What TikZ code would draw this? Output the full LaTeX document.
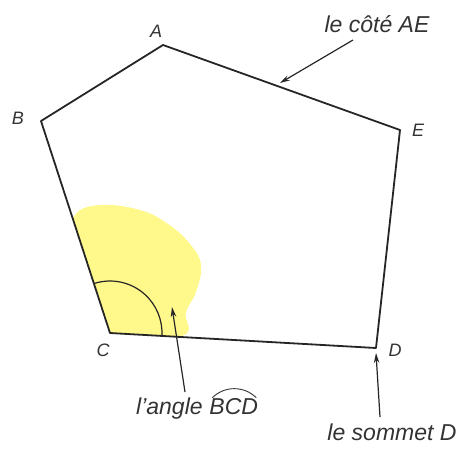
\documentclass[tikz,border=0pt]{standalone}
\usepackage{fontspec}
\setmainfont{Liberation Sans}
\usetikzlibrary{arrows.meta}
\begin{document}
\begin{tikzpicture}[x=1pt,y=-1pt,
  edge/.style={line width=1.8pt, draw=black!85, line join=round},
  pointer/.style={line width=1.2pt, draw=black!85, -{Stealth[length=10pt,width=5.5pt]}},
  vlab/.style={font=\fontsize{18}{20}\selectfont\itshape, inner sep=0pt, text=black!80},
  tlab/.style={font=\fontsize{23}{25}\selectfont\itshape, inner sep=0pt, text=black!80}]
\useasboundingbox (0,0) rectangle (465,448);
\coordinate (A) at (163,45);
\coordinate (B) at (41,121);
\coordinate (C) at (110,333);
\coordinate (D) at (376,348);
\coordinate (E) at (400,130);
% yellow shading
\begin{scope}
\clip (A)--(B)--(C)--(D)--(E)--cycle;
\fill[yellow!50, opacity=0.9] plot[smooth cycle, tension=0.7] coordinates {(75,215) (100,205) (140,210) (168,224) (190,244) (201,265) (196,292) (186,312) (182,336) (112,336) (92,285) (74,240)};
\end{scope}
\draw[edge] (A)--(B)--(C)--(D)--(E)--cycle;
\draw[line width=1.2pt, black!85] (C) ++(-108:52) arc[start angle=-108, end angle=3.2, radius=52];
% labels
\node[vlab] (lA) at (156,31) {A};
\node[vlab] (lB) at (18,118) {B};
\node[vlab] (lE) at (418,130) {E};
\node[vlab] (lC) at (103,350) {C};
\node[vlab] (lD) at (395,350) {D};
\node[tlab] (tAE) at (377,24) {le côté AE};
\node[tlab, anchor=base west] (tAng) at (136,414) {l'angle};
\node[tlab, anchor=base west] (tBCD) at ([xshift=6.4pt]tAng.base east) {BCD};
\draw[line width=0.9pt, black!80] ([shift={(3,0)}]tBCD.north west) to[bend left=45] ([shift={(-2,0)}]tBCD.north east);
\node[tlab] (tSom) at (392,432) {le sommet D};
\coordinate (aeT) at (353,40);
\coordinate (aeH) at (280,83);
\coordinate (angT) at (185,392);
\coordinate (angH) at (172,307);
\coordinate (somT) at (380,417);
\coordinate (somH) at (376,353);
\draw[pointer] (aeT) -- (aeH);
\draw[pointer] (angT) -- (angH);
\draw[pointer] (somT) -- (somH);
\end{tikzpicture}
\end{document}
